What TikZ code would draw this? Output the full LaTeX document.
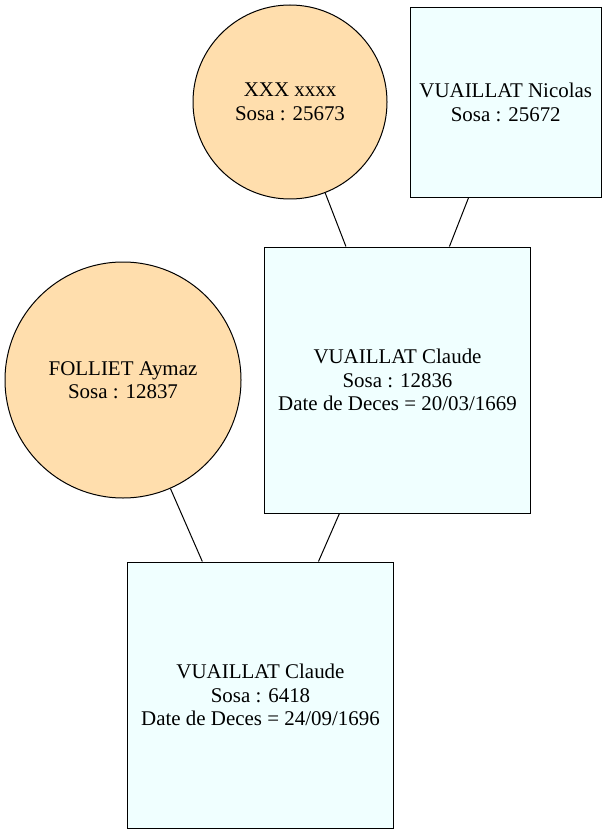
\documentclass[tikz,border=0pt]{standalone}
\usepackage{fontspec}
\setmainfont{Liberation Serif}
\definecolor{femfill}{RGB}{255,222,173}
\definecolor{malefill}{RGB}{240,255,255}
\begin{document}
\begin{tikzpicture}[x=0.75pt,y=-0.75pt,
  person/.style={draw=black, line width=0.75pt, align=center, inner sep=0pt,
    font=\fontsize{15.7pt}{17.6pt}\selectfont},
  female/.style={person, circle, fill=femfill},
  male/.style={person, rectangle, fill=malefill},
  link/.style={draw=black, line width=0.75pt}]
\fill[white] (0,0) rectangle (607,834);
\useasboundingbox (0,0) rectangle (607,834);
\node[female, minimum size=145.5pt] (xxx) at (290,102) {XXX xxxx\\Sosa : 25673};
\node[male, minimum width=143.5pt, minimum height=142.5pt] (nic) at (505.75,102.3) {VUAILLAT Nicolas\\Sosa : 25672};
\node[male, minimum size=199.5pt] (c1) at (397.5,380) {VUAILLAT Claude\\Sosa : 12836\\Date de Deces = 20/03/1669};
\node[female, minimum size=177pt] (fol) at (123,380) {FOLLIET Aymaz\\Sosa : 12837};
\node[male, minimum size=199.5pt] (c0) at (260.5,695) {VUAILLAT Claude\\Sosa : 6418\\Date de Deces = 24/09/1696};
\draw[link] (xxx) -- (c1);
\draw[link] (nic) -- (c1);
\draw[link] (fol) -- (c0);
\draw[link] (c1) -- (c0);
\end{tikzpicture}
\end{document}
